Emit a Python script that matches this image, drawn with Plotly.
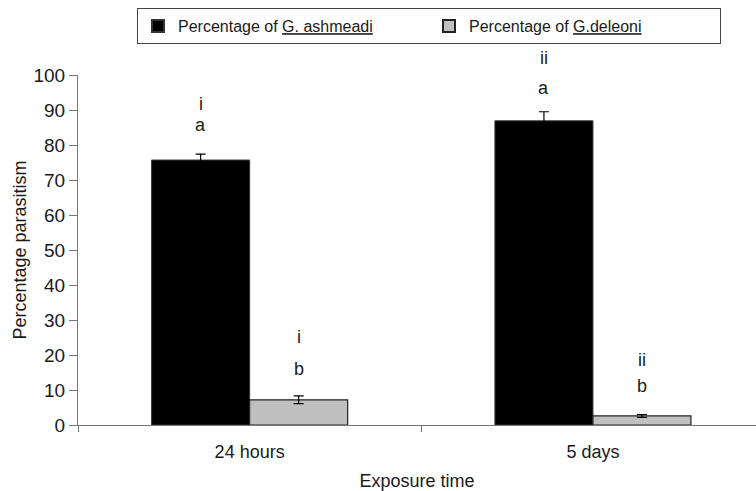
import plotly.graph_objects as go

categories = ["24 hours", "5 days"]
ashmeadi = [75.7, 86.9]
ashmeadi_err = [1.7, 2.6]
deleoni = [7.2, 2.6]
deleoni_err = [1.1, 0.4]
letters_ash = [("i", "a"), ("ii", "a")]
letters_del = [("i", "b"), ("ii", "b")]
# vertical pixel offsets of letters above error-bar tops (upper, lower)
shift_ash = [(48, 27), (52, 22)]
shift_del = [(57, 25), (53, 27)]

FONT = "Liberation Sans, Arial, sans-serif"
TXT = "#1a1a1a"

fig = go.Figure()
fig.add_trace(go.Bar(
    x=categories, y=ashmeadi, name="Percentage of <u>G. ashmeadi</u>",
    marker=dict(color="black", line=dict(color="#333", width=1)),
    error_y=dict(type="data", array=ashmeadi_err, color="black", thickness=1.2, width=5),
))
fig.add_trace(go.Bar(
    x=categories, y=deleoni, name="Percentage of <u>G.deleoni</u>",
    marker=dict(color="#c0c0c0", line=dict(color="#222", width=1.2)),
    error_y=dict(type="data", array=deleoni_err, color="black", thickness=1.2, width=5),
))

off = 0.143
for i in range(len(categories)):
    for vals, errs, letters, shifts, sgn in (
        (ashmeadi, ashmeadi_err, letters_ash, shift_ash, -1),
        (deleoni, deleoni_err, letters_del, shift_del, 1),
    ):
        yb = vals[i] + errs[i]
        for txt, sh in zip(letters[i], shifts[i]):
            fig.add_annotation(x=i + sgn * off, y=yb, yshift=sh + 2, text=txt,
                               showarrow=False, yanchor="middle",
                               font=dict(family=FONT, size=18, color=TXT))

fig.update_layout(
    width=756, height=491,
    margin=dict(l=78, r=0, t=75, b=66, autoexpand=False),
    paper_bgcolor="white", plot_bgcolor="white",
    font=dict(family=FONT, size=18, color=TXT),
    barmode="group", bargap=0.429, bargroupgap=0,
    showlegend=True,
    legend=dict(orientation="h", xref="container", yref="container",
                x=137 / 756, xanchor="left", y=1 - 8 / 491, yanchor="top",
                bordercolor="#444", borderwidth=1, bgcolor="white",
                font=dict(family=FONT, size=16, color=TXT),
                entrywidth=246, entrywidthmode="pixels",
                itemsizing="constant", traceorder="normal"),
    xaxis=dict(range=[-0.5, 1.475], showline=True, linecolor="#777", linewidth=1,
               ticks="outside", tickson="boundaries", ticklen=6, tickcolor="#777",
               tickfont=dict(size=18), ticklabelstandoff=10,
               title=dict(text="Exposure time", standoff=14, font=dict(size=18)),
               showgrid=False, zeroline=False, automargin=False),
    yaxis=dict(range=[0, 100], dtick=10, showline=True, linecolor="#777", linewidth=1,
               ticks="outside", ticklen=8, tickcolor="#777",
               tickfont=dict(size=19),
               title=dict(text="Percentage parasitism", standoff=2, font=dict(size=18)),
               showgrid=False, zeroline=False, automargin=False),
)
fig.write_html("out.html", config={"displayModeBar": False},
               post_script="document.body.style.margin='0';")
